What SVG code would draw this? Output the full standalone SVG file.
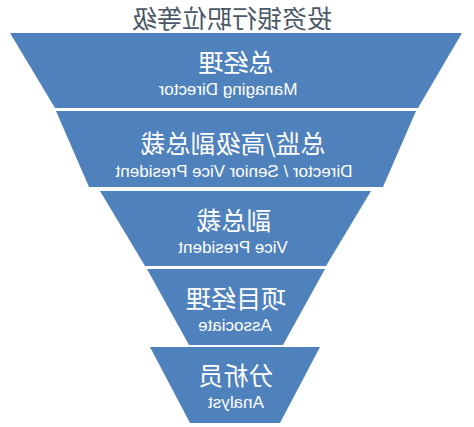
<svg xmlns="http://www.w3.org/2000/svg" width="474" height="427" viewBox="0 0 474 427">
<style>
.seg{fill:#4f81bd;}
.cn{font-family:"Noto Sans CJK SC","Noto Sans",sans-serif;fill:#ffffff;text-anchor:middle;font-size:25px;}
.en{font-family:"Liberation Sans","DejaVu Sans",sans-serif;fill:#ffffff;text-anchor:middle;font-size:17px;}
.title{font-family:"Noto Sans CJK SC","Noto Sans",sans-serif;fill:#4b5867;text-anchor:middle;font-size:25px;}
</style>
<rect width="474" height="427" fill="#ffffff"/>
<g id="title"><text class="title" transform="translate(232,28) scale(-1,1)">投资银行职位等级</text></g>
<g id="md">
<polygon class="seg" points="10,33 462,33 418,108 55,108"/>
<text class="cn" transform="translate(236,72) scale(-1,1)">总经理</text>
<text class="en" transform="translate(228,95) scale(-1,1)">Managing Director</text>
</g>
<g id="svp">
<polygon class="seg" points="56,111 416,111 383,187 89,187"/>
<text class="cn" transform="translate(233,153) scale(-1,1)">总监/高级副总裁</text>
<text class="en" transform="translate(234,177) scale(-1,1)">Director / Senior Vice President</text>
</g>
<g id="vp">
<polygon class="seg" points="100,191 371,191 326,266 145,266"/>
<text class="cn" transform="translate(234,230) scale(-1,1)">副总裁</text>
<text class="en" transform="translate(233,253) scale(-1,1)">Vice President</text>
</g>
<g id="assoc">
<polygon class="seg" points="147,269 325,269 283,345 189,345"/>
<text class="cn" transform="translate(236,308) scale(-1,1)">项目经理</text>
<text class="en" transform="translate(235,331) scale(-1,1)">Associate</text>
</g>
<g id="analyst">
<polygon class="seg" points="150,347 320,347 280,423 190,423"/>
<text class="cn" transform="translate(236,385) scale(-1,1)">分析员</text>
<text class="en" transform="translate(236,408) scale(-1,1)">Analyst</text>
</g>
</svg>
